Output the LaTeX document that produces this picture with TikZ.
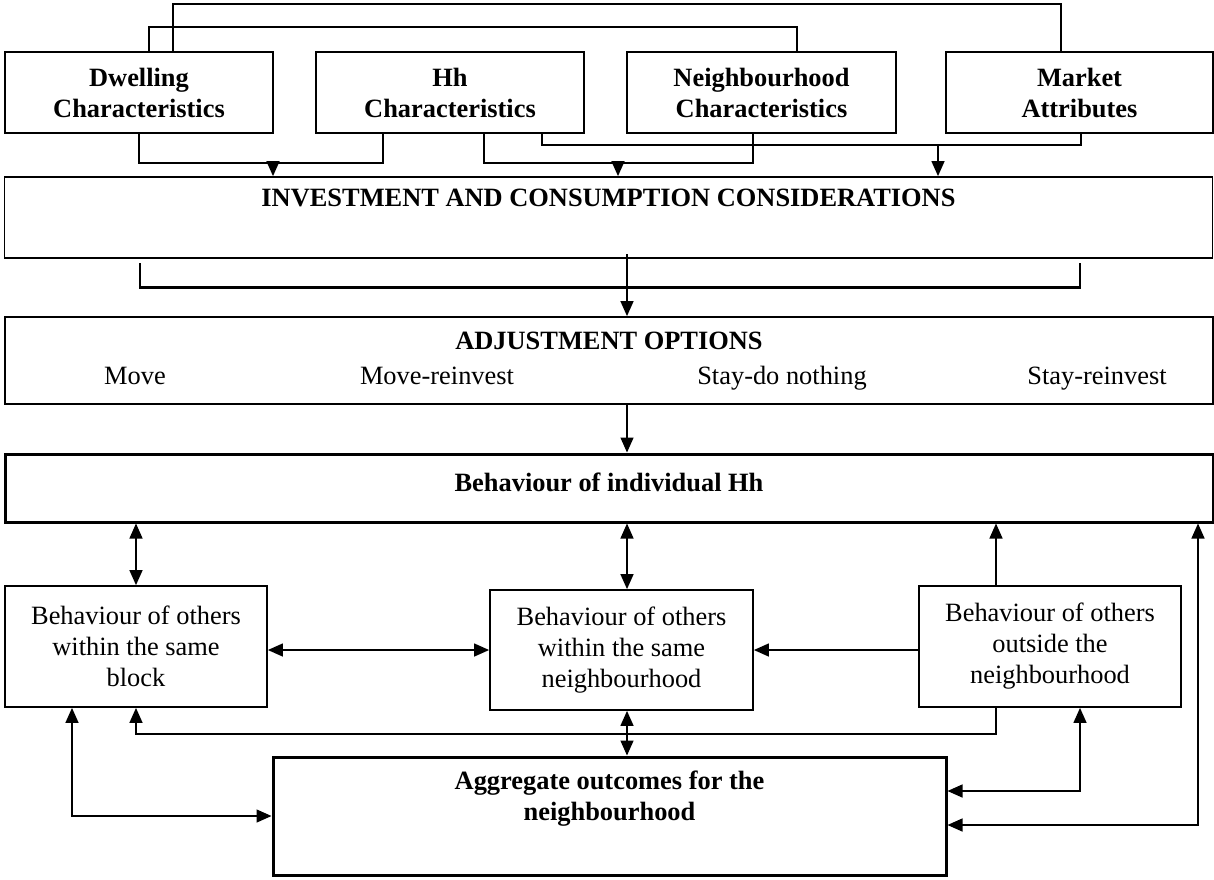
\documentclass[tikz,border=0pt]{standalone}
\usepackage{fontspec}
\setmainfont{Liberation Serif}
\usetikzlibrary{arrows.meta,calc}

\tikzset{
  box/.style={draw, line width=1.8pt, align=center, inner sep=0pt},
  heavybox/.style={box, line width=3pt},
  option/.style={anchor=base, inner sep=0pt},
  link/.style={line width=1.4pt},
  arr/.style={link, -{Triangle[length=15pt,width=13pt]}},
  darr/.style={link, {Triangle[length=15pt,width=13pt]}-{Triangle[length=15pt,width=13pt]}},
}

\begin{document}
\fontsize{26.4}{31}\selectfont
\begin{tikzpicture}[x=1pt,y=-1pt]
      % \draw[help lines,step=50](0,0) grid (1214,879);

      % Bounding box
      \useasboundingbox (0,0) rectangle (1214,879);

      % characteristics
      \node[box, font=\bfseries, minimum width=268, minimum height=81] (dwell) at (139,92.5) {Dwelling\\Characteristics};
      \node[box, font=\bfseries, minimum width=268, minimum height=81] (hh) at (450,92.5) {Hh\\Characteristics};
      \node[box, font=\bfseries, minimum width=269, minimum height=81] (nbh) at (761.5,92.5) {Neighbourhood\\Characteristics};
      \node[box, font=\bfseries, minimum width=267, minimum height=81] (market) at (1079.5,92.5) {Market\\Attributes};

      \node[box, font=\bfseries, minimum width=1208, minimum height=81] (invest) at (608.5,217.5) {INVESTMENT AND CONSUMPTION CONSIDERATIONS\\\strut};

      \node[box, font=\bfseries, minimum width=1208, minimum height=87] (adj) at (609,360.5) {ADJUSTMENT OPTIONS\\\strut};
      \node[option] (move) at (135,384) {Move};
      \node[option] (movere) at (437,384) {Move-reinvest};
      \node[option] (stay) at (782,384) {Stay-do nothing};
      \node[option] (stayre) at (1097,384) {Stay-reinvest};

      \node[heavybox, font=\bfseries, minimum width=1208, minimum height=68] (indiv) at (609,488) {Behaviour of individual Hh\\[-29pt]\strut};

      \node[box, minimum width=262, minimum height=121] (block) at (136,646.5) {Behaviour of others\\within the same\\block};
      \node[box, minimum width=263, minimum height=120] (same) at (621.5,650) {Behaviour of others\\within the same\\neighbourhood};
      \node[box, minimum width=262, minimum height=121] (outside) at (1050,646.5) {Behaviour of others\\outside the\\neighbourhood};

      \node[heavybox, font=\bfseries, minimum width=673, minimum height=118] (agg) at (609.5,816) {Aggregate outcomes for the\\neighbourhood\\\strut};

      % top links
      \draw[link] ($(dwell.north)+(34,0)$) -- ++(0,-47) -| ($(market.north)+(-18.5,0)$);
      \draw[link] ($(dwell.north)+(10,0)$) -- ++(0,-24) -| ($(nbh.north)+(35.5,0)$);

      \draw[link] (dwell.south) -- ++(0,29) -| ($(hh.south)+(-67,0)$);
      \draw[link] ($(hh.south)+(34,0)$) -- ++(0,29) -| ($(nbh.south)+(-8.5,0)$);
      \draw[link] ($(hh.south)+(92,0)$) -- ++(0,11) -| ($(market.south)+(1.5,0)$);
      \coordinate (j1) at (273,162);
      \coordinate (j2) at (618,162);
      \coordinate (j3) at (938,144);
      \draw[arr] (j1) -- (j1 |- invest.north);
      \draw[arr] (j2) -- (j2 |- invest.north);
      \draw[arr] (j3) -- (j3 |- invest.north);

      % bracket
      \draw[link] (140,263) -- (140,287);
      \draw[link] (1080,263) -- (1080,287);
      \draw[line width=3pt] (139.3,287) -- (1080.7,287);

      \coordinate (split) at (627,254);
      \draw[arr] (split) -- (split |- adj.north);
      \draw[arr] (adj.south -| split) -- (split |- indiv.north);

      % feedback
      \coordinate (xb) at (72,0);
      \coordinate (xo) at (996,0);
      \coordinate (xq) at (1080,0);
      \coordinate (xr) at (1198,0);

      \draw[darr] (block.north) -- (block.north |- indiv.south);
      \draw[darr] (split |- same.north) -- (split |- indiv.south);
      \draw[arr] (xo |- outside.north) -- (xo |- indiv.south);
      \draw[darr] (xr |- indiv.south) |- ($(agg.east)+(0,9)$);

      \draw[darr] (same.west -| block.east) -- (same.west);
      \draw[arr] (same.east -| outside.west) -- (same.east);

      \draw[darr] (xb |- block.south) |- (agg.west);
      \draw[arr] (xo |- outside.south) -- ++(0,26) -| (block.south);
      \draw[darr] (split |- same.south) -- (split |- agg.north);
      \draw[darr] (xq |- outside.south) |- ($(agg.east)+(0,-25)$);
\end{tikzpicture}
\end{document}
